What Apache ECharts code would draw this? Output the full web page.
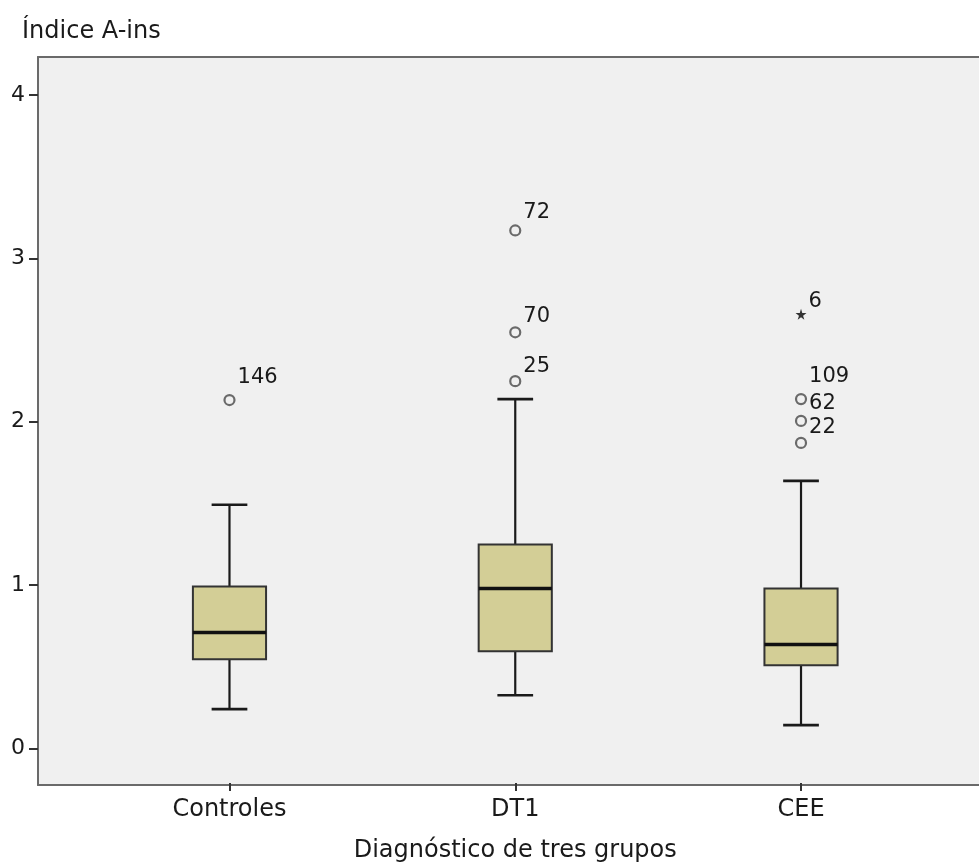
<!DOCTYPE html>
<html>
<head>
<meta charset="utf-8">
<script src="https://cdn.jsdelivr.net/npm/echarts@6/dist/echarts.min.js"></script>
<style>
html,body{margin:0;padding:0;background:#fff;}
#chart{width:979px;height:868px;}
</style>
</head>
<body>
<div id="chart"></div>
<script>
// ---- data ----
const categories = ['Controles', 'DT1', 'CEE'];
const whiskerLow = [0.230, 0.315, 0.132];
const q1 = [0.536, 0.585, 0.499];
const median = [0.701, 0.970, 0.627];
const q3 = [0.982, 1.240, 0.970];
const whiskerHigh = [1.484, 2.133, 1.631];
// outliers (circles): category index, value, case id
const outlierCat = [0, 1, 1, 1, 2, 2, 2];
const outlierVal = [2.127, 3.168, 2.543, 2.243, 2.133, 1.999, 1.864];
const outlierId = ['146', '72', '70', '25', '109', '62', '22'];
// extremes (stars)
const extremeCat = [2];
const extremeVal = [2.653];
const extremeId = ['6'];
const yTicks = [0, 1, 2, 3, 4];

// ---- style ----
const FONT = 'DejaVu Sans';
const yMin = -0.2234, yMax = 4.2326;
const FRAME = {color: '#6a6a6a', width: 2};
const labelDy = {'146': -23, '109': -23, '72': -18, '70': -16, '25': -15, '62': -17, '22': -15, '6': -13};

const boxRows = categories.map((c, i) => [i, whiskerLow[i], q1[i], median[i], q3[i], whiskerHigh[i]]);
const outlierData = outlierCat.map((c, i) => ({value: [c, outlierVal[i]], name: outlierId[i],
  label: {offset: [2, labelDy[outlierId[i]] || -15]}}));
const extremeData = extremeCat.map((c, i) => ({value: [c, extremeVal[i]], name: extremeId[i],
  label: {offset: [2, labelDy[extremeId[i]] || -15]}}));

const chart = echarts.init(document.getElementById('chart'), null, {renderer: 'canvas'});

function renderBox(params, api) {
  const x = api.value(0);
  const pLo = api.coord([x, api.value(1)]);
  const pQ1 = api.coord([x, api.value(2)]);
  const pMed = api.coord([x, api.value(3)]);
  const pQ3 = api.coord([x, api.value(4)]);
  const pHi = api.coord([x, api.value(5)]);
  const band = api.size([1, 0])[0];
  const bw = band * 0.256;
  const cw = band * 0.125;
  const cx = pMed[0];
  const lineStyle = {stroke: '#1a1a1a', lineWidth: 2.2};
  return {
    type: 'group',
    children: [
      {type: 'line', shape: {x1: cx, y1: pHi[1], x2: cx, y2: pQ3[1]}, style: lineStyle},
      {type: 'line', shape: {x1: cx, y1: pQ1[1], x2: cx, y2: pLo[1]}, style: lineStyle},
      {type: 'line', shape: {x1: cx - cw / 2, y1: pHi[1], x2: cx + cw / 2, y2: pHi[1]}, style: {stroke: '#1a1a1a', lineWidth: 2.6}},
      {type: 'line', shape: {x1: cx - cw / 2, y1: pLo[1], x2: cx + cw / 2, y2: pLo[1]}, style: {stroke: '#1a1a1a', lineWidth: 2.6}},
      {type: 'rect', shape: {x: cx - bw / 2, y: pQ3[1], width: bw, height: pQ1[1] - pQ3[1]},
        style: {fill: '#d3ce96', stroke: '#333', lineWidth: 2}},
      {type: 'line', shape: {x1: cx - bw / 2, y1: pMed[1], x2: cx + bw / 2, y2: pMed[1]}, style: {stroke: '#111', lineWidth: 3.5}}
    ]
  };
}

const labelCommon = {
  show: true, position: 'right', distance: 0, formatter: '{b}',
  fontFamily: FONT, fontSize: 21, color: '#1a1a1a'
};

chart.setOption({
  animation: false,
  backgroundColor: '#ffffff',
  title: {
    text: 'Índice A-ins', left: 17, top: 15,
    textStyle: {fontFamily: FONT, fontSize: 24, fontWeight: 'normal', color: '#1a1a1a'}
  },
  grid: [
    {left: 38, right: 0, top: 57, bottom: 83, show: true, backgroundColor: '#f0f0f0', borderWidth: 0},
    {left: 86.6, right: 35.1, top: 57, bottom: 83}
  ],
  xAxis: [
    {type: 'value', gridIndex: 0, position: 'bottom', min: 0, max: 1,
      axisLine: {show: true, onZero: false, lineStyle: FRAME},
      axisTick: {show: false}, axisLabel: {show: false}, splitLine: {show: false}},
    {type: 'category', gridIndex: 1, data: categories, boundaryGap: true,
      axisLine: {show: false, onZero: false},
      axisTick: {show: true, alignWithLabel: true, length: 8, lineStyle: {color: '#333', width: 2}},
      axisLabel: {margin: 15, fontFamily: FONT, fontSize: 24, color: '#1a1a1a'},
      splitLine: {show: false},
      name: 'Diagnóstico de tres grupos', nameLocation: 'middle', nameGap: 56,
      nameTextStyle: {fontFamily: FONT, fontSize: 24, color: '#1a1a1a'}},
    {type: 'value', gridIndex: 0, position: 'top', min: 0, max: 1,
      axisLine: {show: true, onZero: false, lineStyle: FRAME},
      axisTick: {show: false}, axisLabel: {show: false}, splitLine: {show: false}}
  ],
  yAxis: [
    {type: 'value', gridIndex: 0, min: yMin, max: yMax,
      axisLine: {show: true, onZero: false, lineStyle: FRAME},
      axisTick: {show: true, length: 9, customValues: yTicks, lineStyle: {color: '#333', width: 2}},
      axisLabel: {show: true, margin: 13, customValues: yTicks, fontFamily: FONT, fontSize: 22, color: '#1a1a1a'},
      splitLine: {show: false}},
    {type: 'value', gridIndex: 1, min: yMin, max: yMax, show: false, splitLine: {show: false}}
  ],
  series: [
    {type: 'custom', xAxisIndex: 1, yAxisIndex: 1, data: boxRows, renderItem: renderBox,
      encode: {x: 0, y: [1, 2, 3, 4, 5]}, z: 2},
    {type: 'scatter', xAxisIndex: 1, yAxisIndex: 1, data: outlierData, symbol: 'circle', symbolSize: 10,
      itemStyle: {color: '#f0f0f0', borderColor: '#6a6a6a', borderWidth: 2.2, opacity: 1},
      label: labelCommon, z: 3},
    {type: 'scatter', xAxisIndex: 1, yAxisIndex: 1, data: extremeData,
      symbol: 'path://M50,0 L61,35 L98,35 L68,57 L79,91 L50,70 L21,91 L32,57 L2,35 L39,35 Z',
      symbolSize: 11, itemStyle: {color: '#333', opacity: 1},
      label: labelCommon, z: 3}
  ]
});
</script>
</body>
</html>
